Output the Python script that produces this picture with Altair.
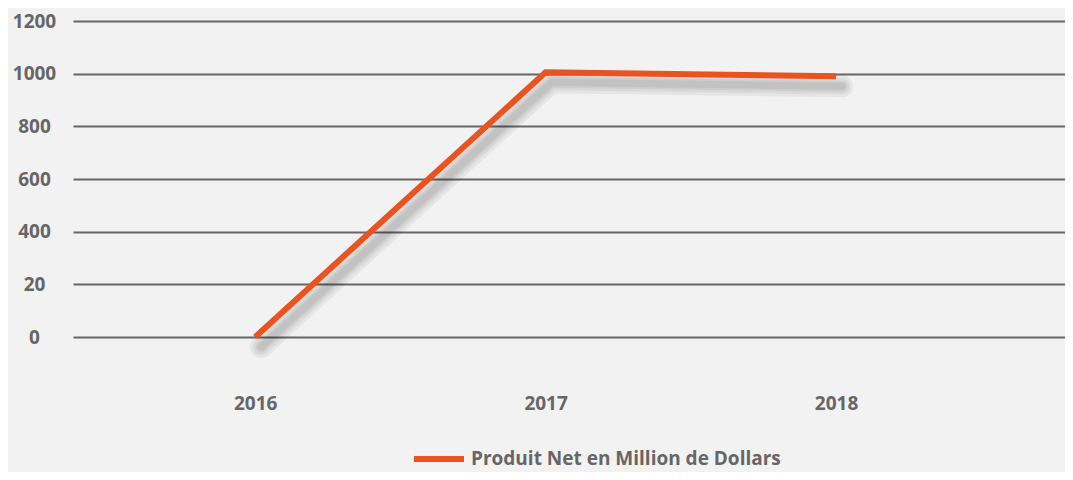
import altair as alt
import pandas as pd

years = [2016, 2017, 2018]
values = [0, 1005, 990]
series = ["Produit Net en Million de Dollars"] * 3
y_ticks = [0, 200, 400, 600, 800, 1000, 1200]

df = pd.DataFrame({"year": years, "value": values, "series": series})

FONT = "Open Sans"
GRAY = "#666666"
ORANGE = "#E9531F"
FS = 19

x_enc = alt.X("year:Q",
              scale=alt.Scale(domain=[2015.373, 2018.788], nice=False, zero=False),
              axis=alt.Axis(values=years, format="d", title=None, grid=False, domain=False,
                            ticks=False, labelPadding=57, labelFontSize=FS,
                            labelFontWeight="bold", labelColor=GRAY, labelFont=FONT))
y_enc = alt.Y("value:Q",
              scale=alt.Scale(domain=[0, 1200], nice=False),
              axis=alt.Axis(values=y_ticks, format="d", title=None, domain=False, ticks=False,
                            grid=True, gridColor=GRAY, gridWidth=2, gridOpacity=1,
                            labelExpr="datum.value == 200 ? '20' : datum.label",
                            labelAlign="center", labelPadding=39, labelFontSize=FS,
                            labelFontWeight="bold", labelColor=GRAY, labelFont=FONT))

base = alt.Chart(df)

shadows = [
    base.mark_line(stroke="#000000", strokeWidth=w, opacity=0.05, xOffset=6, yOffset=10,
                   strokeCap="round", strokeJoin="round").encode(x=x_enc, y=y_enc)
    for w in [22, 16, 11, 7]
]

line = base.mark_line(strokeWidth=6, strokeJoin="miter").encode(
    x=x_enc, y=y_enc,
    color=alt.Color("series:N", scale=alt.Scale(range=[ORANGE]),
                    legend=alt.Legend(title=None, orient="none", legendX=338, legendY=410,
                                      symbolType="stroke", symbolStrokeWidth=6,
                                      symbolSize=2500, labelFontSize=FS,
                                      labelFontWeight="bold", labelColor=GRAY,
                                      labelFont=FONT, labelLimit=600)))

chart = alt.layer(*shadows, line).properties(
    width=992, height=316,
    background="#F2F2F2",
    autosize=alt.AutoSizeParams(type="none"),
    padding={"left": 65, "top": 13, "right": 0, "bottom": 135},
).configure_view(stroke=None)

chart.save("out.html", embed_options={"renderer": "svg", "actions": False})
